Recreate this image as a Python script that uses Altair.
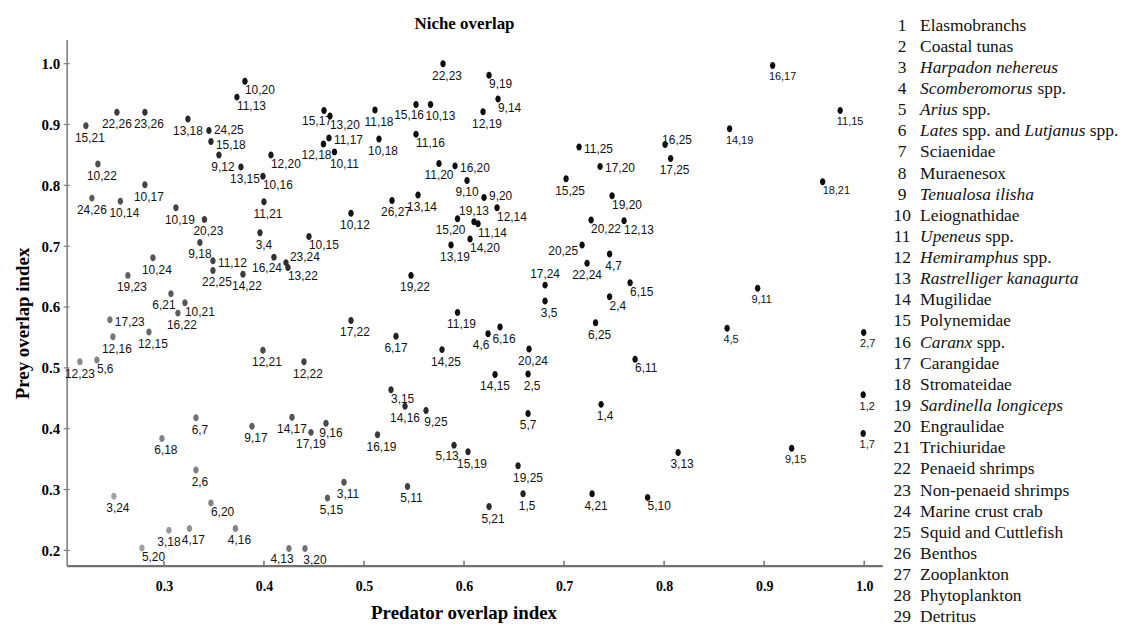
import altair as alt
import pandas as pd

# ---------------- data ----------------
pairs = ["22,23", "9,19", "9,14", "10,20", "11,13", "15,17", "13,20", "11,18", "15,16", "10,13",
         "12,19", "22,26", "23,26", "13,18", "24,25", "15,21", "15,18", "11,17", "12,18", "10,11",
         "10,18", "11,16", "9,12", "12,20", "13,15", "10,16", "10,22", "11,20", "16,20", "9,10",
         "11,25", "17,20", "16,25", "17,25", "15,25", "10,17", "24,26", "10,14", "26,27", "13,14",
         "9,20", "19,20", "11,21", "10,19", "20,23", "10,12", "19,13", "12,14", "15,20", "11,14",
         "20,22", "12,13", "3,4", "10,15", "9,18", "14,20", "13,19", "20,25", "4,7", "10,24",
         "11,12", "23,24", "16,24", "13,22", "22,24", "22,25", "14,22", "19,23", "19,22", "17,24",
         "6,15", "6,21", "10,21", "3,5", "2,4", "16,22", "17,23", "11,19", "17,22", "6,25",
         "12,16", "12,15", "6,17", "4,6", "6,16", "20,24", "14,25", "12,21", "12,22", "12,23",
         "5,6", "6,11", "14,15", "2,5", "3,15", "14,16", "9,25", "1,4", "5,7", "6,7",
         "9,17", "14,17", "9,16", "17,19", "16,19", "6,18", "5,13", "15,19", "3,13", "19,25",
         "2,6", "3,11", "5,11", "3,24", "6,20", "5,15", "1,5", "4,21", "5,10", "5,21",
         "3,18", "4,17", "4,16", "5,20", "4,13", "3,20", "16,17", "14,19", "11,15", "18,21",
         "9,11", "4,5", "2,7", "9,15", "1,2", "1,7"]

pred = [0.579, 0.625, 0.634, 0.381, 0.373, 0.460, 0.466, 0.511, 0.552, 0.5665,
        0.619, 0.253, 0.281, 0.324, 0.345, 0.222, 0.347, 0.465, 0.4595, 0.4705,
        0.515, 0.552, 0.355, 0.407, 0.377, 0.399, 0.234, 0.575, 0.591, 0.603,
        0.715, 0.736, 0.801, 0.8065, 0.702, 0.281, 0.228, 0.2565, 0.528, 0.554,
        0.620, 0.748, 0.400, 0.312, 0.3405, 0.487, 0.610, 0.633, 0.5935, 0.614,
        0.727, 0.760, 0.396, 0.445, 0.336, 0.606, 0.587, 0.718, 0.7455, 0.289,
        0.349, 0.422, 0.410, 0.424, 0.723, 0.349, 0.379, 0.264, 0.547, 0.681,
        0.766, 0.307, 0.321, 0.681, 0.7455, 0.314, 0.246, 0.5935, 0.487, 0.7315,
        0.249, 0.285, 0.532, 0.624, 0.636, 0.665, 0.578, 0.399, 0.440, 0.216,
        0.233, 0.771, 0.631, 0.664, 0.527, 0.541, 0.562, 0.737, 0.664, 0.332,
        0.388, 0.428, 0.462, 0.447, 0.5135, 0.298, 0.590, 0.604, 0.814, 0.654,
        0.332, 0.480, 0.5435, 0.250, 0.347, 0.4635, 0.659, 0.728, 0.7835, 0.625,
        0.305, 0.3255, 0.3715, 0.278, 0.425, 0.441, 0.9085, 0.8655, 0.976, 0.9585,
        0.8935, 0.863, 0.9995, 0.9275, 0.999, 0.999]

prey = [1.000, 0.981, 0.942, 0.971, 0.945, 0.923, 0.914, 0.924, 0.933, 0.933,
        0.921, 0.920, 0.920, 0.909, 0.890, 0.898, 0.872, 0.878, 0.868, 0.855,
        0.876, 0.884, 0.850, 0.850, 0.830, 0.815, 0.835, 0.836, 0.832, 0.808,
        0.863, 0.831, 0.867, 0.844, 0.811, 0.801, 0.779, 0.774, 0.775, 0.784,
        0.780, 0.783, 0.773, 0.763, 0.744, 0.754, 0.740, 0.763, 0.745, 0.737,
        0.743, 0.742, 0.722, 0.716, 0.706, 0.712, 0.702, 0.702, 0.687, 0.681,
        0.676, 0.673, 0.682, 0.665, 0.672, 0.660, 0.654, 0.652, 0.652, 0.636,
        0.640, 0.622, 0.607, 0.610, 0.617, 0.590, 0.579, 0.591, 0.578, 0.574,
        0.551, 0.559, 0.552, 0.556, 0.567, 0.531, 0.530, 0.529, 0.510, 0.510,
        0.513, 0.514, 0.489, 0.490, 0.464, 0.437, 0.430, 0.440, 0.425, 0.418,
        0.404, 0.419, 0.409, 0.394, 0.390, 0.384, 0.373, 0.362, 0.361, 0.339,
        0.332, 0.312, 0.305, 0.289, 0.278, 0.286, 0.293, 0.293, 0.287, 0.272,
        0.233, 0.236, 0.236, 0.204, 0.203, 0.203, 0.997, 0.893, 0.923, 0.806,
        0.631, 0.565, 0.558, 0.368, 0.456, 0.392]

# where each label sits relative to its dot (default "b": below, a little right)
label_side = {
    "9,19": "br", "9,14": "br", "10,20": "br", "11,13": "br", "15,17": "bL", "13,20": "br",
    "15,16": "bL", "10,13": "bR", "24,25": "rU", "15,18": "rD", "11,17": "r", "12,18": "bL",
    "10,11": "bR", "11,16": "br", "12,20": "br", "10,16": "br", "16,20": "r", "11,25": "r",
    "17,20": "r", "16,25": "t", "9,20": "rU", "19,20": "br", "19,13": "a", "12,14": "br",
    "15,20": "bL", "11,14": "br", "20,22": "br", "12,13": "br", "10,15": "br", "14,20": "br",
    "20,25": "l", "11,12": "r", "23,24": "ra", "16,24": "bL", "13,22": "br", "17,24": "a",
    "6,15": "br", "6,21": "bL", "10,21": "br", "2,4": "br", "17,23": "r", "4,6": "bL",
    "5,6": "br", "6,11": "br", "3,15": "br", "9,25": "bR", "5,13": "bL", "19,25": "bR",
    "6,20": "br", "5,10": "br", "5,20": "br", "4,13": "bL", "3,20": "bR", "16,17": "bR",
    "14,19": "bR", "11,15": "bR", "18,21": "br",
    "13,18": "bc", "3,18": "bc", "22,26": "bc", "24,26": "bc", "6,17": "bc", "17,19": "bc",
    "14,16": "bc", "9,10": "bc", "11,20": "bc", "12,23": "bc", "22,24": "bc", "14,15": "bc",
    "5,7": "bc", "9,18": "bc", "14,17": "bc", "9,16": "bh",
}

legend_names = ["Elasmobranchs", "Coastal tunas", "*Harpadon nehereus*", "*Scomberomorus* spp.",
                "*Arius* spp.", "*Lates* spp. and *Lutjanus* spp.", "Sciaenidae", "Muraenesox",
                "*Tenualosa ilisha*", "Leiognathidae", "*Upeneus* spp.", "*Hemiramphus* spp.",
                "*Rastrelliger kanagurta*", "Mugilidae", "Polynemidae", "*Caranx* spp.",
                "Carangidae", "Stromateidae", "*Sardinella longiceps*", "Engraulidae",
                "Trichiuridae", "Penaeid shrimps", "Non-penaeid shrimps", "Marine crust crab",
                "Squid and Cuttlefish", "Benthos", "Zooplankton", "Phytoplankton", "Detritus"]

x_ticks = [0.3, 0.4, 0.5, 0.6, 0.7, 0.8, 0.9, 1.0]
y_ticks = [0.2, 0.3, 0.4, 0.5, 0.6, 0.7, 0.8, 0.9, 1.0]

# ---------------- layout / style ----------------
W, H = 820, 529
SERIF = "Liberation Serif"
SANS = "Liberation Sans"
LEG_FS = 17.5
LEG_NUM_X = 840
LEG_TEXT_X = 858

df = pd.DataFrame({"pair": pairs, "pred": pred, "prey": prey})
df["shade"] = 2 * df["pred"] + df["prey"]
df["side"] = [label_side.get(p, "b") for p in pairs]

xscale = alt.Scale(domain=[0.2028, 1.0181], nice=False, zero=False)
yscale = alt.Scale(domain=[0.1749, 1.0397], nice=False, zero=False)

X = alt.X("pred:Q", scale=xscale,
          axis=alt.Axis(values=x_ticks, format=".1f", ticks=False, grid=False,
                        domainColor="#707070", domainWidth=2.2,
                        labelFont=SERIF, labelFontWeight="bold", labelFontSize=14,
                        labelColor="#000", labelPadding=14,
                        title="Predator overlap index", titleFont=SERIF, titleFontSize=19,
                        titleFontWeight="bold", titleColor="#000",
                        titleX=399, titleY=47, titleAlign="center", titleBaseline="middle"))
Y = alt.Y("prey:Q", scale=yscale,
          axis=alt.Axis(values=y_ticks, format=".1f", ticks=False, grid=False,
                        domainColor="#808080", domainWidth=1.6,
                        labelFont=SERIF, labelFontWeight="bold", labelFontSize=15,
                        labelColor="#000", labelPadding=7,
                        title="Prey overlap index", titleFont=SERIF, titleFontSize=19,
                        titleFontWeight="bold", titleColor="#000",
                        titleX=-44, titleY=285, titleAlign="center", titleBaseline="middle",
                        titleAngle=-90))

ellipse = "M-0.78,0A0.78,1,0,1,0,0.78,0A0.78,1,0,1,0,-0.78,0Z"

points = alt.Chart(df).mark_point(shape=ellipse, filled=True, size=49, opacity=1).encode(
    x=X, y=Y,
    color=alt.Color("shade:Q", legend=None,
                    scale=alt.Scale(domain=[0.8, 1.75], range=["#a2a2a2", "#0e0e0e"], clamp=True)),
)

sides = {
    "b": ("center", 4, 12), "bc": ("center", 0, 12), "bh": ("center", 5, 10),
    "bR": ("center", 10, 12), "bL": ("center", -7, 11),
    "br": ("left", 0, 9), "r": ("left", 5, 2), "rU": ("left", 5, -1), "rD": ("left", 5, 4),
    "a": ("center", 0, -11), "ra": ("left", 4, -6), "t": ("left", -3, -5),
    "l": ("right", -4, 6),
}
label_layers = []
for code, (al, ddx, ddy) in sides.items():
    label_layers.append(
        alt.Chart(df).transform_filter(alt.datum.side == code)
        .mark_text(align=al, dx=ddx, dy=ddy, baseline="middle", font=SANS, color="#111")
        .encode(x=X, y=Y, text="pair:N",
                size=alt.condition("datum.pred > 0.85", alt.value(11), alt.value(12)))
    )

tx = pd.DataFrame({"pred": x_ticks})
xtick_layer = alt.Chart(tx).mark_rule(color="#707070", strokeWidth=1.5).encode(
    x=X, y=alt.value(H), y2=alt.value(H - 5))
ty = pd.DataFrame({"prey": y_ticks})
ytick_layer = alt.Chart(ty).mark_rule(color="#808080", strokeWidth=1.2).encode(
    y=Y, x=alt.value(-3), x2=alt.value(3))

# ---------- legend (numbered key at right) ----------
RG = dict(zip("abcdefghijklmnopqrstuvwxyz",
              [444, 500, 444, 500, 444, 333, 500, 500, 278, 278, 500, 278, 778, 500, 500, 500,
               500, 333, 389, 278, 500, 500, 722, 500, 500, 444]))
RG.update(dict(zip("ABCDEFGHIJKLMNOPQRSTUVWXYZ",
                   [722, 667, 667, 722, 611, 556, 722, 722, 333, 389, 722, 611, 889, 722, 722,
                    556, 722, 667, 556, 611, 722, 722, 944, 722, 722, 611])))
RG.update({" ": 250, ".": 250, "-": 333})
IT = dict(zip("abcdefghijklmnopqrstuvwxyz",
              [500, 500, 444, 500, 444, 278, 500, 500, 278, 278, 444, 278, 722, 500, 500, 500,
               500, 389, 389, 278, 500, 444, 667, 444, 444, 389]))
IT.update(dict(zip("ABCDEFGHIJKLMNOPQRSTUVWXYZ",
                   [611, 611, 667, 722, 611, 611, 722, 722, 333, 444, 667, 556, 833, 667, 722,
                    611, 722, 611, 500, 556, 722, 611, 833, 611, 556, 556])))
IT.update({" ": 250, ".": 250, "-": 333})


def text_width(s, table):
    return sum(table.get(c, 500) for c in s) / 1000.0


seg_rows = []
for k, name in enumerate(legend_names, start=1):
    off = 0.0
    for i, part in enumerate(name.split("*")):
        if not part:
            continue
        table = IT if i % 2 else RG
        stripped = part.lstrip(" ")
        start = off + (len(part) - len(stripped)) * 0.25
        seg_rows.append({"k": k, "seg": stripped.rstrip(" "), "ital": bool(i % 2),
                         "xpx": LEG_TEXT_X + start * LEG_FS})
        off += text_width(part, table)
seg_df = pd.DataFrame(seg_rows)
num_df = pd.DataFrame({"k": list(range(1, len(legend_names) + 1))})
num_df["num"] = num_df["k"].astype(str)

LY = alt.Y("k:Q", scale=alt.Scale(domain=[1, 29], range=[-14, 581]), axis=None)

leg_nums = alt.Chart(num_df).mark_text(
    align="center", baseline="middle", font=SERIF, fontSize=LEG_FS, color="#111"
).encode(x=alt.value(LEG_NUM_X), y=LY, text="num:N")

leg_reg = alt.Chart(seg_df).transform_filter("!datum.ital").mark_text(
    align="left", baseline="middle", font=SERIF, fontSize=LEG_FS, color="#111"
).encode(x=alt.X("xpx:Q", scale=None, axis=None), y=LY, text="seg:N")

leg_it = alt.Chart(seg_df).transform_filter("datum.ital").mark_text(
    align="left", baseline="middle", font=SERIF, fontSize=LEG_FS, fontStyle="italic", color="#111"
).encode(x=alt.X("xpx:Q", scale=None, axis=None), y=LY, text="seg:N")

title_layer = alt.Chart(pd.DataFrame({"t": ["Niche overlap"]})).mark_text(
    align="center", baseline="middle", font=SERIF, fontSize=17, fontWeight="bold", color="#000"
).encode(x=alt.value(400), y=alt.value(-16), text="t:N")

main = alt.layer(xtick_layer, ytick_layer, points, *label_layers)
legend = alt.layer(leg_nums, leg_reg, leg_it, title_layer)

chart = alt.layer(main, legend).resolve_scale(x="independent", y="independent").properties(
    width=W, height=H,
    padding={"left": 59, "top": 30, "right": 240, "bottom": 61},
    autosize=alt.AutoSizeParams(type="none"),
).configure_view(stroke=None)

chart.save("out.html", embed_options={"renderer": "svg", "actions": False})
